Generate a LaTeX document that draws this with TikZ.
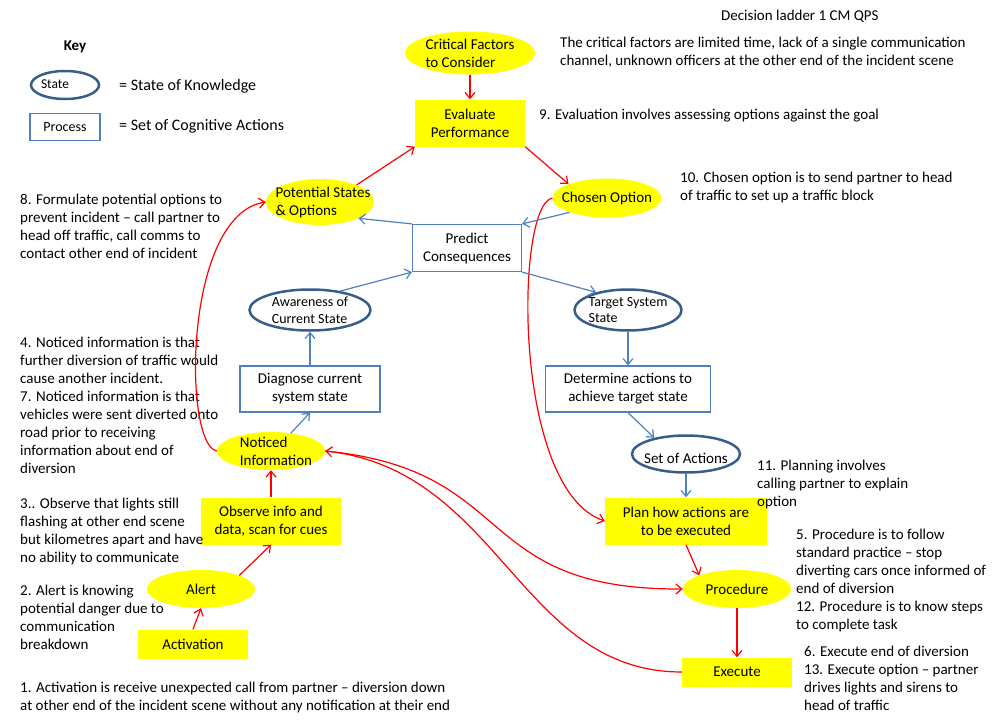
\documentclass[tikz,border=0pt]{standalone}
\usepackage{fontspec}
\setmainfont{Carlito}
\usetikzlibrary{shapes.geometric,arrows.meta}
\definecolor{hi}{RGB}{255,255,0}
\definecolor{edge}{RGB}{79,129,189}
\definecolor{rim}{RGB}{56,93,138}
\begin{document}
\begin{tikzpicture}[x=1pt,y=-1pt,
	>={Straight Barb[length=6pt,width=10pt]},
	every node/.style={font=\fontsize{15}{18}\selectfont},
	know/.style={draw=rim, line width=2.5pt, ellipse, inner sep=0pt},
	proc/.style={draw=edge, line width=1.2pt, rectangle, align=center, inner sep=0pt},
	hiell/.style={fill=hi, ellipse, inner sep=0pt},
	hibox/.style={fill=hi, rectangle, align=center, inner sep=0pt},
	note/.style={anchor=west, align=left, inner sep=0pt},
	inl/.style={align=left},
	hot/.style={draw=red, line width=1.2pt, ->},
	cool/.style={draw=edge, line width=1.2pt, ->}]
				\useasboundingbox (0,0) rectangle (994,720);
				\node[font=\fontsize{15}{18}\selectfont\bfseries] (key) at (75,47) {Key};
				\node[know, minimum width=68pt, minimum height=28pt, label={[font=\fontsize{13.5}{16}\selectfont, xshift=-10pt, yshift=1pt]center:State}] (kstate) at (65,85) {};
				\node[proc, minimum width=70pt, minimum height=27pt, font=\fontsize{14}{16}\selectfont] (kproc) at (65,127) {Process};
				\node[note, font=\fontsize{16}{19}\selectfont] (kstatetxt) at (119,86) {= State of Knowledge};
				\node[note, font=\fontsize{16}{19}\selectfont] (kproctxt) at (119,126) {= Set of Cognitive Actions};
				\node[hiell, minimum width=130pt, minimum height=43pt, label={[inl]center:Critical Factors\\to Consider}] (crit) at (470,53) {};
				\node[hibox, minimum width=110pt, minimum height=47pt] (eval) at (470,123) {Evaluate\\Performance};
				\node[hiell, minimum width=109pt, minimum height=39pt, label=center:Chosen Option] (chosen) at (607,198) {};
				\node[hiell, minimum width=108pt, minimum height=46pt, label={[inl, xshift=3pt]center:Potential States\\\& Options}] (pot) at (320,202) {};
				\node[proc, minimum width=109pt, minimum height=47pt] (pred) at (467,248) {Predict\\Consequences};
				\node[know, minimum width=121pt, minimum height=41pt, label={[inl, font=\fontsize{14}{16.5}\selectfont]center:Awareness of\\Current State}] (aware) at (310,310) {};
				\node[know, minimum width=107pt, minimum height=41pt, label={[inl, font=\fontsize{14}{16.5}\selectfont]center:Target System\\State}] (target) at (628,310) {};
				\node[proc, minimum width=140pt, minimum height=46pt] (diag) at (310,389) {Diagnose current\\system state};
				\node[proc, minimum width=165pt, minimum height=46pt] (determ) at (628,389) {Determine actions to\\achieve target state};
				\node[know, minimum width=108pt, minimum height=37pt, label={[yshift=-4pt]center:Set of Actions}] (setact) at (686,454) {};
				\node[hiell, minimum width=108pt, minimum height=38pt, label={[inl, xshift=5pt]center:Noticed\\Information}] (noticed) at (271,451) {};
				\node[hibox, minimum width=140pt, minimum height=47pt] (obs) at (271,521) {Observe info and\\data, scan for cues};
				\node[hibox, minimum width=162pt, minimum height=47pt] (plan) at (686,521) {Plan how actions are\\to be executed};
				\node[hiell, minimum width=108pt, minimum height=38pt, label=center:Alert] (alert) at (201,589) {};
				\node[hiell, minimum width=108pt, minimum height=38pt, label=center:Procedure] (procd) at (737,589) {};
				\node[hibox, minimum width=110pt, minimum height=29pt] (act) at (193,644) {Activation};
				\node[hibox, minimum width=110pt, minimum height=29pt] (exec) at (737,672) {Execute};
				\node[note] (title) at (721,16) {Decision ladder 1 CM QPS};
				\node[note] (critnote) at (560,52.5) {The critical factors are limited time, lack of a single communication\\channel, unknown officers at the other end of the incident scene};
				\node[note] (evalnote) at (539,116) {9. Evaluation involves assessing options against the goal};
				\node[note] (chosennote) at (680,187) {10. Chosen option is to send partner to head\\of traffic to set up a traffic block};
				\node[note] (potnote) at (20,226) {8. Formulate potential options to\\prevent incident – call partner to\\head off traffic, call comms to\\contact other end of incident};
				\node[note] (noticednote) at (20,405) {4. Noticed information is that\\further diversion of traffic would\\cause another incident.\\7. Noticed information is that\\vehicles were sent diverted onto\\road prior to receiving\\information about end of\\diversion};
				\node[note] (obsnote) at (20,531.5) {3.. Observe that lights still\\flashing at other end scene\\but kilometres apart and have\\no ability to communicate};
				\node[note] (alertnote) at (20,617) {2. Alert is knowing\\potential danger due to\\communication\\breakdown};
				\node[note] (actnote) at (20,697) {1. Activation is receive unexpected call from partner – diversion down\\at other end of the incident scene without any notification at their end};
				\node[note] (plannote) at (757,484) {11. Planning involves\\calling partner to explain\\option};
				\node[note] (procnote) at (796,580.5) {5. Procedure is to follow\\standard practice – stop\\diverting cars once informed of\\end of diversion\\12. Procedure is to know steps\\to complete task};
				\node[note] (execnote) at (804,678.5) {6. Execute end of diversion\\13. Execute option – partner\\drives lights and sirens to\\head of traffic};
				\draw[hot] (act.north) -- (alert.south);
				\draw[hot] (alert.north east) -- (obs.south);
				\draw[hot] (obs.north) -- (noticed.south);
				\draw[hot] (pot.25) -- (eval.south west);
				\draw[hot] (crit.south) -- (eval.north);
				\draw[hot] (eval.south east) -- (chosen.160);
				\draw[hot] (plan.south) -- (procd.160);
				\draw[hot] (procd.south) -- (exec.north);
				\draw[hot] (noticed.west) .. controls (183,445) and (183,215) .. (pot.west);
				\draw[hot] (chosen.west) .. controls (515,205) and (512,490) .. (plan.west);
				\draw[hot] (noticed.east) .. controls (520,470) and (470,590) .. (procd.west);
				\draw[hot] (exec.west) .. controls (520,672) and (500,470) .. (noticed.east);
				\draw[cool] (pred.north west) -- (pot.-23);
				\draw[cool] (chosen.201) -- (pred.north east);
				\draw[cool] (aware.32) -- (pred.south west);
				\draw[cool] (pred.south east) -- (target.151);
				\draw[cool] (diag.north) -- (aware.south);
				\draw[cool] (noticed.42) -- (diag.south);
				\draw[cool] (target.south) -- (determ.north);
				\draw[cool] (determ.south) -- (setact.153);
				\draw[cool] (setact.south) -- (plan.north);
			\end{tikzpicture}
\end{document}
